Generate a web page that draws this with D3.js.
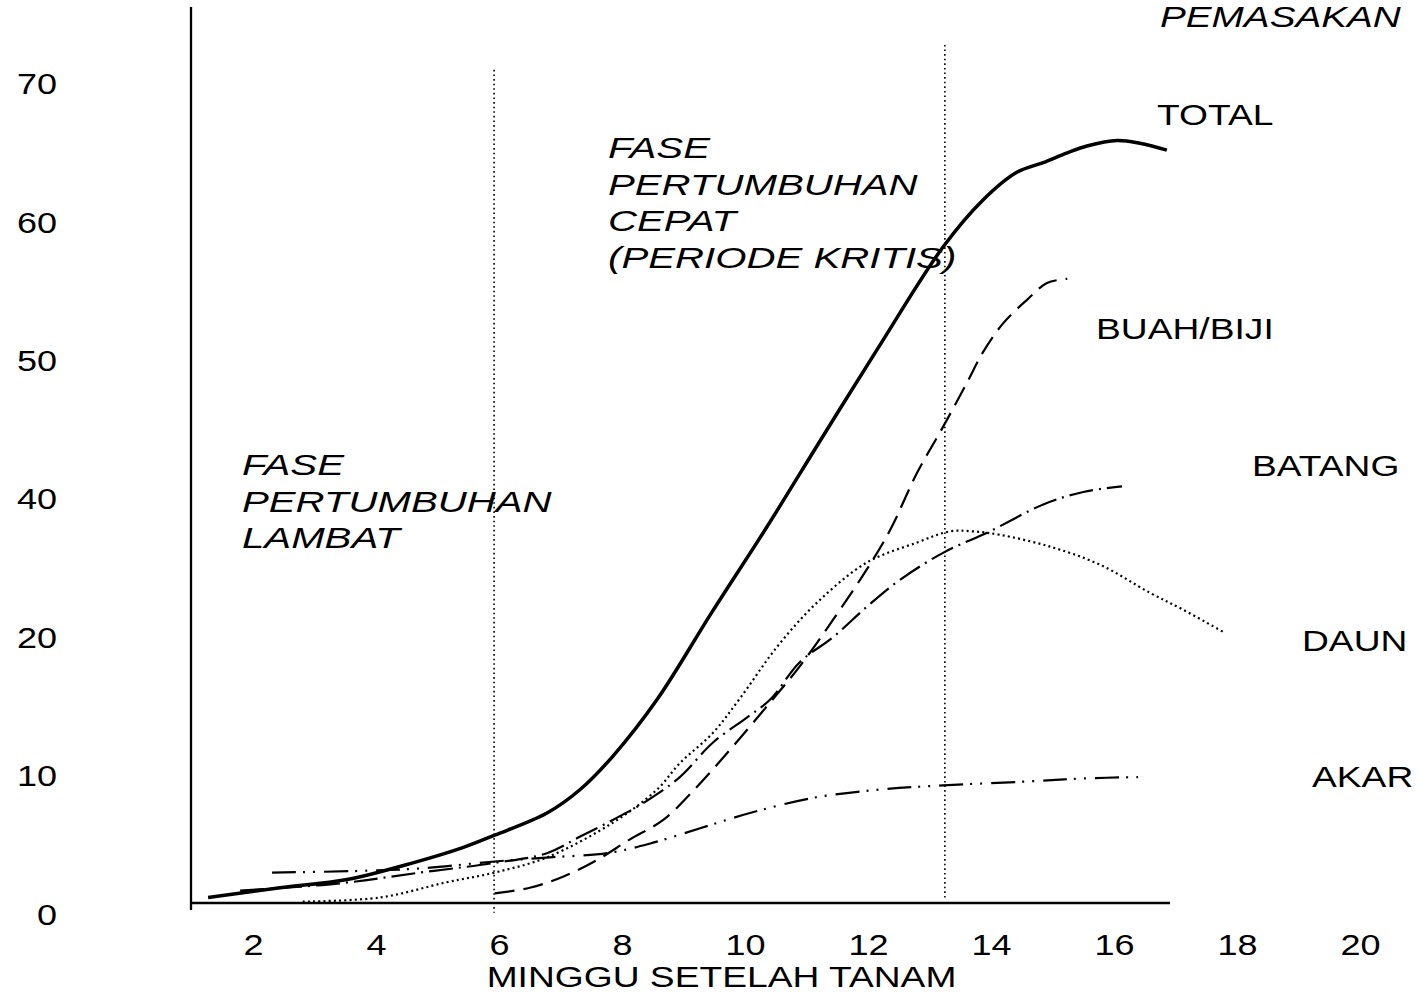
<!DOCTYPE html>
<html>
<head>
<meta charset="utf-8">
<script src="https://cdn.jsdelivr.net/npm/d3@7"></script>
<style>
  html, body { margin: 0; padding: 0; background: #fff; }
  svg { display: block; }
  text { font-family: "Liberation Sans", Arial, Helvetica, sans-serif; fill: #000; }
</style>
</head>
<body>
<div id="chart"></div>
<script>
// ---------------- DATA ----------------
const xTicks = [2, 4, 6, 8, 10, 12, 14, 16, 18, 20];
const yTicks = [0, 10, 20, 40, 50, 60, 70];
const yTickLabels = ["0", "10", "20", "40", "50", "60", "70"];
const xTitle = "MINGGU SETELAH TANAM";

const totalWeeks = [1.27, 2.44, 3.53, 4.60, 5.41, 5.93, 6.78, 7.32, 7.85, 8.57, 9.46, 10.36, 11.25, 12.15, 13.22, 13.87, 14.42, 14.85, 15.24, 15.56, 16.05, 16.42, 16.86];
const totalValues = [0.4, 1.1, 1.7, 2.9, 4.0, 4.9, 6.5, 8.2, 10.6, 14.7, 22.0, 34.4, 43.6, 50.0, 57.4, 60.8, 62.8, 63.5, 64.2, 64.7, 65.1, 64.9, 64.4];

const buahWeeks = [5.93, 6.50, 7.04, 7.59, 8.13, 8.67, 9.22, 9.80, 10.41, 10.89, 11.43, 11.98, 12.36, 12.80, 13.22, 13.61, 13.87, 14.20, 14.59, 14.91, 15.24];
const buahValues = [0.7, 1.1, 1.9, 3.1, 4.6, 6.0, 8.4, 11.3, 14.5, 17.1, 20.9, 28.2, 33.9, 41.1, 44.4, 47.6, 49.8, 51.9, 53.6, 54.8, 55.1];

const daunWeeks = [2.81, 4.07, 5.15, 5.93, 6.78, 7.85, 8.57, 8.94, 9.48, 9.92, 10.52, 11.17, 11.98, 12.80, 13.33, 13.71, 14.15, 14.96, 15.77, 16.59, 17.12, 17.77];
const daunValues = [0.1, 0.4, 1.5, 2.2, 3.3, 5.8, 8.2, 10.1, 12.3, 14.8, 18.5, 23.4, 29.2, 32.1, 33.7, 33.7, 33.2, 31.5, 28.9, 24.8, 22.4, 19.6];

const batangWeeks = [1.79, 3.37, 4.72, 5.93, 6.78, 7.32, 7.85, 8.41, 8.94, 9.48, 10.03, 10.41, 10.89, 11.43, 11.98, 12.52, 13.22, 13.98, 14.85, 15.50, 16.13];
const batangValues = [0.9, 1.4, 2.2, 2.9, 3.6, 4.8, 6.0, 7.4, 9.1, 11.6, 13.4, 14.7, 17.4, 19.2, 22.8, 26.7, 30.6, 33.7, 37.6, 39.4, 40.1];

const akarWeeks = [2.31, 3.58, 4.72, 5.93, 6.83, 7.76, 8.46, 9.27, 10.08, 11.11, 12.20, 13.22, 14.68, 15.50, 16.42];
const akarValues = [2.2, 2.3, 2.5, 3.0, 3.3, 3.6, 4.3, 5.4, 6.5, 7.6, 8.2, 8.5, 8.8, 9.0, 9.1];

const seriesNames = ["TOTAL", "BUAH/BIJI", "BATANG", "DAUN", "AKAR"];

// phase boundaries (weeks) and their vertical extents (values)
const phaseWeeks = [5.92, 13.25];
const phaseTop = [70.2, 72.0];
const phaseBottom = [-0.7, 0.4];

const phaseLambat = ["FASE", "PERTUMBUHAN", "LAMBAT"];
const phaseCepat = ["FASE", "PERTUMBUHAN", "CEPAT", "(PERIODE KRITIS)"];
const phasePemasakan = ["PEMASAKAN"];

// ---------------- LAYOUT ----------------
const W = 1420, H = 993;
const FONT = 30;
const SX_NUM = 1.2, SX_TXT = 1.24, SX_IT = 1.34;

const svg = d3.select("#chart").append("svg")
  .attr("width", W).attr("height", H).attr("viewBox", `0 0 ${W} ${H}`);

const x = d3.scaleLinear().domain([0, 20]).range([130, 1360]);
const y0 = 903, yStep = 138.4;
const y = d3.scaleLinear().domain(yTicks).range(yTicks.map((d, i) => y0 - i * yStep));

// ---------------- AXES ----------------
const axisX0 = 191, axisX1 = 1170, axisYTop = 7, axisYBottom = 910;
svg.append("line").attr("x1", axisX0).attr("x2", axisX0)
  .attr("y1", axisYTop).attr("y2", axisYBottom)
  .attr("stroke", "#000").attr("stroke-width", 2.3);
svg.append("line").attr("x1", axisX0).attr("x2", axisX1)
  .attr("y1", y(0)).attr("y2", y(0))
  .attr("stroke", "#000").attr("stroke-width", 2.3);

const gx = svg.append("g").attr("transform", "translate(0,955)")
  .call(d3.axisBottom(x).tickValues(xTicks).tickSize(0).tickPadding(0).tickFormat(d3.format("d")));
gx.select(".domain").remove();
gx.attr("font-size", null).attr("font-family", null);
gx.selectAll("text").attr("y", 0).attr("dy", 0)
  .attr("transform", `scale(${SX_NUM},1)`)
  .style("font-size", FONT + "px");

const gy = svg.append("g").attr("transform", "translate(57,21)")
  .call(d3.axisLeft(y).tickValues(yTicks).tickSize(0).tickPadding(0)
    .tickFormat((d, i) => yTickLabels[i]));
gy.select(".domain").remove();
gy.attr("font-size", null).attr("font-family", null);
gy.selectAll("text").attr("x", 0).attr("dy", 0)
  .attr("text-anchor", "end")
  .attr("transform", `scale(${SX_NUM},1)`)
  .style("font-size", FONT + "px");

function addText(str, px, py, sx, italic, anchor) {
  svg.append("text")
    .attr("transform", `translate(${px},${py}) scale(${sx},1)`)
    .attr("text-anchor", anchor || "start")
    .style("font-size", FONT + "px")
    .style("font-style", italic ? "italic" : "normal")
    .text(str);
}
addText(xTitle, 721.5, 987, SX_TXT, false, "middle");

// ---------------- PHASE LINES ----------------
phaseWeeks.forEach((w, i) => {
  svg.append("line")
    .attr("x1", x(w)).attr("x2", x(w))
    .attr("y1", y(phaseTop[i])).attr("y2", y(phaseBottom[i]))
    .attr("stroke", "#000").attr("stroke-width", 1.6)
    .attr("stroke-dasharray", "1.6,3");
});

// ---------------- CURVES ----------------
const line = d3.line().x(d => x(d[0])).y(d => y(d[1])).curve(d3.curveCatmullRom.alpha(0.5));
const zip = (a, b) => a.map((v, i) => [v, b[i]]);

const curves = [
  { name: seriesNames[0], data: zip(totalWeeks, totalValues), width: 3.5, dash: null },
  { name: seriesNames[1], data: zip(buahWeeks, buahValues), width: 2.2, dash: "20,9" },
  { name: seriesNames[2], data: zip(batangWeeks, batangValues), width: 2.2, dash: "24,6,2,6" },
  { name: seriesNames[3], data: zip(daunWeeks, daunValues), width: 2.2, dash: "2,3.2" },
  { name: seriesNames[4], data: zip(akarWeeks, akarValues), width: 2.2, dash: "24,7,2,8,2,9" }
];

svg.append("g").selectAll("path").data(curves).join("path")
  .attr("d", d => line(d.data))
  .attr("fill", "none")
  .attr("stroke", "#000")
  .attr("stroke-width", d => d.width)
  .attr("stroke-dasharray", d => d.dash);

// ---------------- LABELS ----------------
const seriesLabelPos = [[1157, 125], [1096, 339], [1252, 476], [1302, 651], [1312, 787]];
seriesNames.forEach((n, i) => addText(n, seriesLabelPos[i][0], seriesLabelPos[i][1], SX_TXT, false));

const lineGap = 36.7;
phaseLambat.forEach((s, i) => addText(s, 242, 475 + i * lineGap, SX_IT, true));
phaseCepat.forEach((s, i) => addText(s, 608, 158 + i * lineGap, SX_IT, true));
phasePemasakan.forEach((s, i) => addText(s, 1160, 27 + i * lineGap, 1.29, true));
</script>
</body>
</html>
